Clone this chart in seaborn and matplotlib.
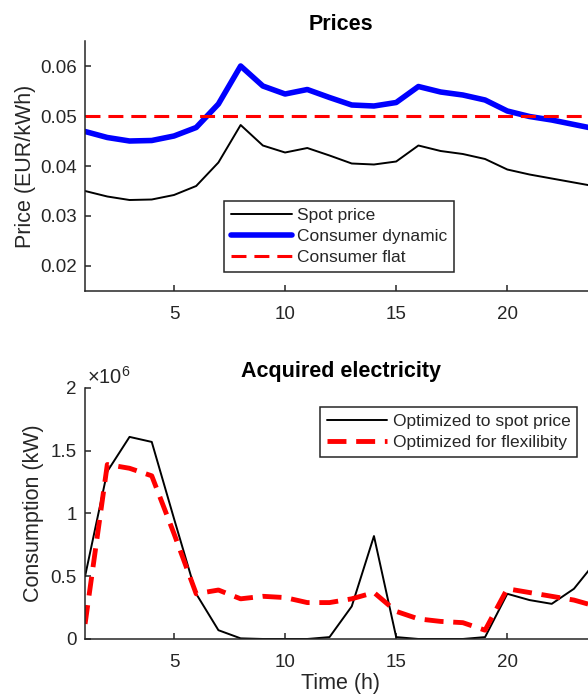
import matplotlib
matplotlib.use("Agg")
import matplotlib.pyplot as plt
from matplotlib.ticker import FuncFormatter
import seaborn as sns

# hourly data
hours = list(range(1, 25))
spot_price = [0.0350, 0.0339, 0.0332, 0.0333, 0.0342, 0.0360, 0.0407, 0.0482,
              0.0441, 0.0427, 0.0436, 0.0421, 0.0405, 0.0403, 0.0409, 0.0441,
              0.0430, 0.0424, 0.0414, 0.0393, 0.0383, 0.0375, 0.0367, 0.0359]
consumer_dynamic = [0.0469, 0.0457, 0.0450, 0.0451, 0.0460, 0.0477, 0.0524, 0.0600,
                    0.0560, 0.0544, 0.0553, 0.0537, 0.0522, 0.0520, 0.0527, 0.0559,
                    0.0548, 0.0542, 0.0532, 0.0510, 0.0499, 0.0492, 0.0483, 0.0474]
consumer_flat = 0.05

opt_spot = [0.50e6, 1.335e6, 1.61e6, 1.57e6, 0.96e6, 0.36e6, 0.07e6, 0.005e6,
            0.0, 0.0, 0.0, 0.015e6, 0.26e6, 0.82e6, 0.015e6, 0.0,
            0.0, 0.0, 0.015e6, 0.36e6, 0.31e6, 0.28e6, 0.40e6, 0.62e6]
opt_flex = [0.12e6, 1.39e6, 1.36e6, 1.30e6, 0.84e6, 0.36e6, 0.39e6, 0.32e6,
            0.34e6, 0.33e6, 0.29e6, 0.29e6, 0.32e6, 0.37e6, 0.22e6, 0.16e6,
            0.14e6, 0.13e6, 0.07e6, 0.40e6, 0.37e6, 0.34e6, 0.31e6, 0.26e6]

sns.set_theme(style="ticks")
GRAY = "#262626"
plt.rcParams.update({
    "font.family": ["Liberation Sans", "DejaVu Sans"],
    "mathtext.fontset": "custom",
    "mathtext.rm": "Liberation Sans",
    "mathtext.it": "Liberation Sans",
    "axes.edgecolor": GRAY,
    "axes.linewidth": 1.1,
    "xtick.color": GRAY,
    "ytick.color": GRAY,
    "xtick.labelsize": 13.5,
    "ytick.labelsize": 13.5,
    "xtick.direction": "in",
    "ytick.direction": "in",
    "xtick.major.size": 4.3,
    "ytick.major.size": 4.3,
    "xtick.major.width": 1.1,
    "ytick.major.width": 1.1,
    "xtick.major.pad": 10.5,
    "ytick.major.pad": 6,
    "axes.labelcolor": GRAY,
    "axes.labelsize": 15.5,
})

fig = plt.figure(figsize=(5.88, 6.95), dpi=100)
ax1 = fig.add_axes([0.1447, 0.5813, 0.8692, 0.3597])
ax2 = fig.add_axes([0.1447, 0.0806, 0.8692, 0.3612])

legend_kw = dict(borderaxespad=0, fontsize=12.5, handlelength=3.5,
                 handletextpad=0.3, labelspacing=0.33, borderpad=0.4,
                 fancybox=False, framealpha=1, edgecolor=GRAY)


def style_axes(ax):
    sns.despine(ax=ax)
    ax.set_xlim(1, 24)
    ax.set_xticks([5, 10, 15, 20])
    ax.tick_params(which="minor", length=0)


# --- Prices ---
sns.lineplot(x=hours, y=spot_price, ax=ax1, color="black", linewidth=1.4,
             label="Spot price")
sns.lineplot(x=hours, y=consumer_dynamic, ax=ax1, color="#0000ff", linewidth=4,
             label="Consumer dynamic")
ax1.axhline(consumer_flat, color="#ff0000", linewidth=2.2,
            linestyle=(0, (4.9, 2.6)), label="Consumer flat")
style_axes(ax1)
ax1.set_ylim(0.015, 0.065)
ax1.set_yticks([0.02, 0.03, 0.04, 0.05, 0.06])
ax1.set_ylabel("Price (EUR/kWh)", labelpad=3)
ax1.set_title("Prices", fontsize=15.5, fontweight="bold", pad=8, color="black")
ax1.legend(loc="lower left", bbox_to_anchor=(0.272, 0.076), **legend_kw)
ax1.get_legend().get_frame().set_linewidth(1.1)

# --- Acquired electricity ---
sns.lineplot(x=hours, y=opt_spot, ax=ax2, color="black", linewidth=1.4,
             label="Optimized to spot price")
sns.lineplot(x=hours, y=opt_flex, ax=ax2, color="#ff0000", linewidth=3.5,
             linestyle=(0, (3.9, 2.0)), label="Optimized for flexilibity")
style_axes(ax2)
ax2.set_ylim(0, 2e6)
ax2.set_yticks([0, 0.5e6, 1e6, 1.5e6, 2e6])
ax2.yaxis.set_major_formatter(FuncFormatter(lambda v, p: f"{v / 1e6:g}"))
ax2.text(0.004, 1.0, r"$\times10^{6}$", transform=ax2.transAxes, ha="left",
         va="bottom", fontsize=14.5, color=GRAY)
ax2.set_ylabel("Consumption (kW)", labelpad=5)
ax2.set_xlabel("Time (h)", labelpad=2)
ax2.set_title("Acquired electricity", fontsize=15.5, fontweight="bold", pad=8,
              color="black")
ax2.legend(loc="upper right", bbox_to_anchor=(0.963, 0.924), **legend_kw)
ax2.get_legend().get_frame().set_linewidth(1.1)

fig.savefig("out.png", dpi=100)
plt.close(fig)
